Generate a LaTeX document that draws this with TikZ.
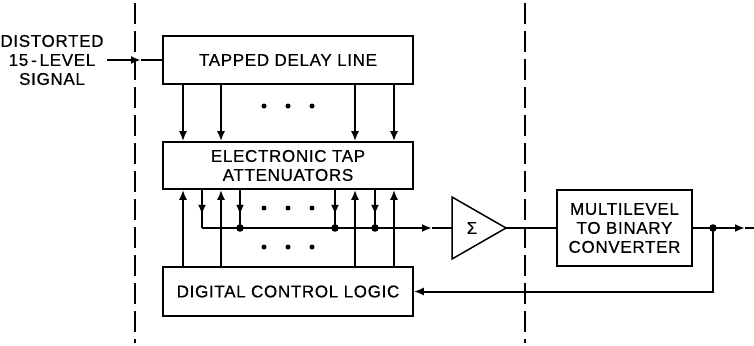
\documentclass[tikz,border=0pt]{standalone}
\usepackage{fontspec}
\setmainfont{Liberation Sans}[LetterSpace=4,FakeBold=0.6]
\usetikzlibrary{arrows.meta}

\begin{document}
\begin{tikzpicture}[x=1pt,y=-1pt,
    box/.style={draw, line width=1.6pt, align=center, inner sep=0pt},
    sig/.style={line width=2pt},
    arr/.style={sig, -{Latex[length=10pt,width=8pt]}},
    bound/.style={line width=1.4pt, dash pattern=on 21pt off 7pt},
    font=\fontsize{17}{19}\selectfont]

    \useasboundingbox (0,0) rectangle (754,345);

    % パラメータの定義
    \pgfmathsetmacro{\W}{250}
    \pgfmathsetmacro{\Xc}{288}
    \pgfmathsetmacro{\Yb}{228}

    % 点の定義
    \coordinate (T1) at (183,0);
    \coordinate (T2) at (221,0);
    \coordinate (T3) at (355,0);
    \coordinate (T4) at (394,0);
    \coordinate (O1) at (202,0);
    \coordinate (O2) at (240,0);
    \coordinate (O3) at (335,0);
    \coordinate (O4) at (375,0);
    \coordinate (BUS) at (0,\Yb);
    \coordinate (S1) at (452,197);
    \coordinate (S2) at (452,259);
    \coordinate (S3) at (506,\Yb);
    \coordinate (J) at (713,\Yb);

    % ブロックの描画
    \node [align=center] (IN) at (52,60) {DISTORTED\\15\,-\,LEVEL\\SIGNAL};
    \node [box, minimum width=\W, minimum height=48] (TDL) at (\Xc,60) {TAPPED DELAY LINE};
    \node [box, minimum width=\W, minimum height=47] (ETA) at (\Xc,165.5) {ELECTRONIC TAP\\ATTENUATORS};
    \node [box, minimum width=\W, minimum height=49] (DCL) at (\Xc,291.5) {DIGITAL CONTROL LOGIC};
    \node [box, minimum width=135, minimum height=76] (MBC) at (624.5,\Yb) {MULTILEVEL\\TO BINARY\\CONVERTER};
    \draw [line width=1.5pt, line join=miter] (S1) -- (S3) -- (S2) -- cycle;
    \node (SUM) at (472,\Yb) {Σ};

    % 境界線
    \draw [bound] (135,3) -- (135,343);
    \draw [bound] (525,3) -- (525,343);

    % 入力
    \coordinate (INmid) at (141,60);
    \draw [arr] (IN) -- (INmid);
    \draw [sig] (INmid) -- (TDL.west);

    % タップ
    \foreach \t in {1,...,4} {
        \draw [arr] (TDL.south -| T\t) -- (ETA.north -| T\t);
        \draw [arr] (DCL.north -| T\t) -- (ETA.south -| T\t);
        \draw [sig] (ETA.south -| O\t) -- (BUS -| O\t);
        \draw [arr] (ETA.south -| O\t) -- ++(0,25);
    }
    \foreach \t in {2,3,4}
        \fill (BUS -| O\t) circle (3.8pt);
    \foreach \x in {264,288,312} {
        \fill (\x,106) circle (2.5pt);
        \fill (\x,208) circle (2.5pt);
        \fill (\x,247) circle (2.5pt);
    }

    % 加算と出力
    \coordinate (BUSmid) at (432,\Yb);
    \draw [arr] (BUS -| O1) -- (BUSmid);
    \draw [sig] (BUSmid) -- (S1 |- BUS);
    \draw [sig] (S3) -- (MBC.west);
    \coordinate (OUTmid) at (745,\Yb);
    \coordinate (OUT) at (754,\Yb);
    \draw [arr] (MBC.east) -- (OUTmid);
    \draw [sig] (OUTmid) -- (OUT);
    \fill (J) circle (3.8pt);
    \draw [arr] (J) |- (DCL.east);

\end{tikzpicture}
\end{document}
